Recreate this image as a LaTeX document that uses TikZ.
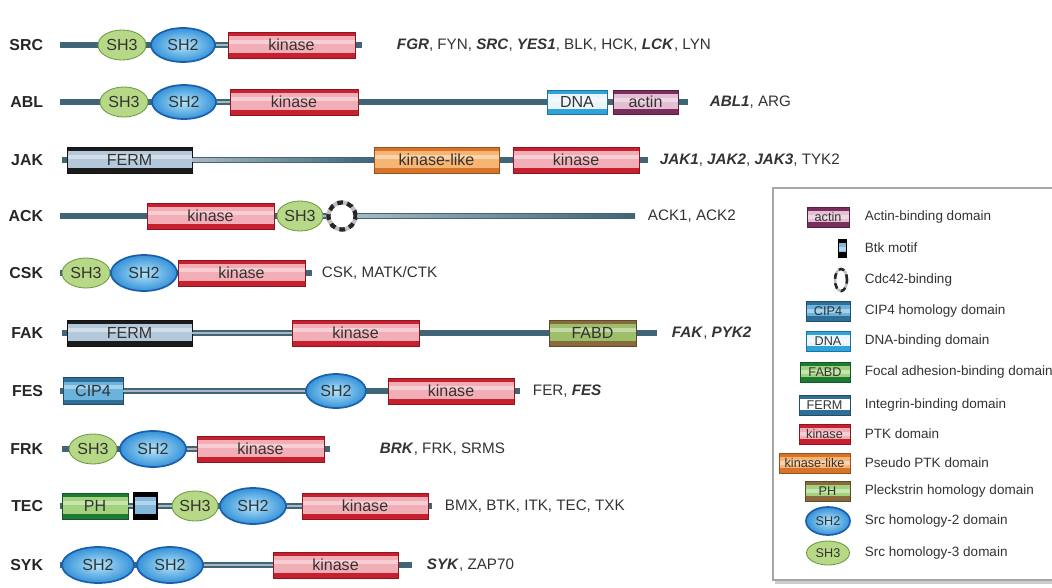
\documentclass[tikz,border=0pt]{standalone}
\usepackage{fontspec}
\setmainfont{Liberation Sans}
\usepackage{xcolor}
\usepackage{tikz}
\usetikzlibrary{shapes,arrows,positioning,calc,shadows,arrows.meta}

\definecolor{bbdark}{HTML}{3F6577}
\definecolor{bblight}{HTML}{A7B8C3}
\definecolor{txt}{HTML}{333333}
\definecolor{kinred}{HTML}{C8202F}
\definecolor{kinpink}{HTML}{F2AEB6}
\definecolor{klband}{HTML}{D8742A}
\definecolor{klfill}{HTML}{F7B573}
\definecolor{fermband}{HTML}{1B1B1B}
\definecolor{fermfill}{HTML}{B3C8DA}
\definecolor{fabdband}{HTML}{8A6A3C}
\definecolor{fabdfill}{HTML}{9DBF6A}
\definecolor{phband}{HTML}{1E7B36}
\definecolor{phfill}{HTML}{A2D27C}
\definecolor{cipband}{HTML}{2F6E96}
\definecolor{cipfill}{HTML}{6AB3DC}
\definecolor{dnaband}{HTML}{2EA3DC}
\definecolor{dnafill}{HTML}{EAF6FB}
\definecolor{actband}{HTML}{7B2D5D}
\definecolor{actfill}{HTML}{E3BFD3}
\definecolor{btkfill}{HTML}{80B9DC}
\definecolor{shtwoin}{HTML}{B4E4FA}
\definecolor{shtwoout}{HTML}{3592D8}
\definecolor{shtwoedge}{HTML}{1A5FAE}
\definecolor{shthree}{HTML}{B7D886}
\definecolor{shthreeedge}{HTML}{6A9A3F}

\def\pxu{0.025cm}
\newcommand{\domfont}{\fontsize{11.4}{13}\selectfont}
\newcommand{\genefont}{\fontsize{10.8}{13}\selectfont}
\newcommand{\rowfont}{\fontsize{11.3}{13}\selectfont\bfseries}
\newcommand{\legfont}{\fontsize{9.6}{11}\selectfont}
\newcommand{\legiconfont}{\fontsize{9}{11}\selectfont}
\newcommand{\bgene}[1]{\textbf{\textit{#1}}}
% box domain: name, style, left x, right x, y, text
\newcommand{\dombox}[6]{\node[#2, minimum width={(#4-#3)*\pxu}] (#1) at ({(#3+#4)/2},#5) {#6};}

\tikzset{
  dom/.style 2 args={draw=#2!70!black, line width=0.3pt, fill=#1, inner sep=0pt,
    minimum height=26*\pxu, text=txt, font=\domfont,
    path picture={
      \fill[#2] (path picture bounding box.north west) rectangle ([yshift=-3pt]path picture bounding box.north east);
      \fill[#2] (path picture bounding box.south west) rectangle ([yshift=3.5pt]path picture bounding box.south east);
      \fill[white, opacity=.4] ([yshift=-5.5pt]path picture bounding box.north west) rectangle ([yshift=-8.5pt]path picture bounding box.north east);
    }},
  kinase/.style={dom={kinpink}{kinred}},
  kinlike/.style={dom={klfill}{klband}},
  ferm/.style={dom={fermfill}{fermband}},
  fabd/.style={dom={fabdfill}{fabdband}},
  ph/.style={dom={phfill}{phband}},
  cip/.style={dom={cipfill}{cipband}},
  dna/.style={dom={dnafill}{dnaband}},
  actin/.style={dom={actfill}{actband}},
  btk/.style={dom={btkfill}{black}, draw=black, line width=1pt},
  sh2/.style={ellipse, draw=shtwoedge, line width=1.2pt, inner color=shtwoin, outer color=shtwoout,
    minimum width=64*\pxu, minimum height=34*\pxu, inner sep=0pt, text=txt, font=\domfont},
  sh3/.style={ellipse, draw=shthreeedge, line width=0.6pt, fill=shthree,
    minimum width=48*\pxu, minimum height=30*\pxu, inner sep=0pt, text=txt, font=\domfont},
  cdc/.style={ellipse, fill=white, draw=black!25, line width=3pt, inner sep=0pt,
    minimum width=27*\pxu, minimum height=27*\pxu,
    postaction={draw=black!85, dash pattern=on 4pt off 3.2pt}},
  backbone/.style={draw=bbdark, line width=3.6pt},
  linker/.style={draw=bblight, line width=2pt},
  rowname/.style={anchor=east, font=\rowfont, text=black!85},
  genes/.style={anchor=west, font=\genefont, text=txt},
  legbox/.style={draw=black!35, fill=white, line width=0.8pt,
    drop shadow={shadow xshift=1.5pt, shadow yshift=-2.5pt, fill=black!40}},
  legicon/.style={minimum height=20*\pxu, font=\legiconfont},
  legtxt/.style={anchor=west, font=\legfont, text=txt}
}

\begin{document}
\begin{tikzpicture}[x=0.025cm, y=-0.025cm]
    \useasboundingbox (0,0) rectangle (1052,587);

    % SRC
    \node[rowname] (srcL) at (48,45) {SRC};
    \coordinate (srcA) at (60,45); \coordinate (srcB) at (362,45);
    \draw[backbone] (srcA) -- (srcB);
    \node[sh3] (srcSH3) at (122,45) {SH3};
    \node[sh2] (srcSH2) at (183,45) {SH2};
    \dombox{srcKin}{kinase}{228}{355}{45}{kinase}
    \draw[linker] (srcSH2) -- (srcKin);
    \node[genes] (srcG) at (392,45) {\bgene{FGR}, FYN, \bgene{SRC}, \bgene{YES1}, BLK, HCK, \bgene{LCK}, LYN};

    % ABL
    \node[rowname] (ablL) at (48,102) {ABL};
    \coordinate (ablA) at (60,102); \coordinate (ablB) at (688,102);
    \draw[backbone] (ablA) -- (ablB);
    \node[sh3] (ablSH3) at (124,102) {SH3};
    \node[sh2] (ablSH2) at (184,102) {SH2};
    \dombox{ablKin}{kinase}{230}{358}{102}{kinase}
    \dombox{ablDNA}{dna, minimum height=24*\pxu}{547}{607}{102}{DNA}
    \dombox{ablAct}{actin, minimum height=24*\pxu}{613}{678}{102}{actin}
    \draw[linker] (ablSH2) -- (ablKin);
    \node[genes] (ablG) at (705,102) {\bgene{ABL1}, ARG};

    % JAK
    \node[rowname] (jakL) at (48,160) {JAK};
    \coordinate (jakA) at (62,160); \coordinate (jakB) at (648,160);
    \draw[backbone] (jakA) -- (jakB);
    \dombox{jakFerm}{ferm}{67}{192}{160}{FERM}
    \dombox{jakKl}{kinlike}{374}{499}{160}{kinase-like}
    \dombox{jakKin}{kinase}{513}{639}{160}{kinase}
    \shade[left color=bblight, right color=bbdark] ([yshift=1pt]jakFerm.east) rectangle ([yshift=-1pt]jakKl.west);
    \node[genes] (jakG) at (655,160) {\bgene{JAK1}, \bgene{JAK2}, \bgene{JAK3}, TYK2};

    % ACK
    \node[rowname] (ackL) at (48,216) {ACK};
    \coordinate (ackA) at (60,216); \coordinate (ackB) at (635,216);
    \draw[backbone] (ackA) -- (ackB);
    \dombox{ackKin}{kinase}{147}{274}{216}{kinase}
    \node[sh3, minimum width=46*\pxu] (ackSH3) at (300,216) {SH3};
    \node[cdc] (ackCdc) at (342,216) {};
    \draw[linker] (ackSH3) -- (ackCdc);
    \shade[left color=bblight, right color=bbdark] ([yshift=1pt]ackCdc.east) rectangle ([yshift=-1pt]ackB);
    \node[genes] (ackG) at (643,216) {ACK1, ACK2};

    % CSK
    \node[rowname] (cskL) at (48,273) {CSK};
    \coordinate (cskA) at (60,273); \coordinate (cskB) at (312,273);
    \draw[backbone] (cskA) -- (cskB);
    \node[sh3] (cskSH3) at (86,273) {SH3};
    \node[sh2, minimum width=66*\pxu, minimum height=36*\pxu] (cskSH2) at (144,273) {SH2};
    \dombox{cskKin}{kinase}{178}{305}{273}{kinase}
    \node[genes] (cskG) at (317,273) {CSK, MATK/CTK};

    % FAK
    \node[rowname] (fakL) at (48,333) {FAK};
    \coordinate (fakA) at (62,333); \coordinate (fakB) at (657,333);
    \draw[backbone] (fakA) -- (fakB);
    \dombox{fakFerm}{ferm}{67}{192}{333}{FERM}
    \dombox{fakKin}{kinase}{292}{419}{333}{kinase}
    \dombox{fakFabd}{fabd}{549}{636}{333}{FABD}
    \draw[linker] (fakFerm) -- (fakKin);
    \node[genes] (fakG) at (667,333) {\bgene{FAK}, \bgene{PYK2}};

    % FES
    \node[rowname] (fesL) at (48,391) {FES};
    \coordinate (fesA) at (60,391); \coordinate (fesB) at (520,391);
    \draw[backbone] (fesA) -- (fesB);
    \dombox{fesCip}{cip, minimum height=27*\pxu}{63}{123}{391}{CIP4}
    \node[sh2, minimum width=60*\pxu] (fesSH2) at (336,391) {SH2};
    \dombox{fesKin}{kinase}{388}{514}{391}{kinase}
    \draw[linker] (fesCip) -- (fesSH2);
    \node[genes] (fesG) at (528,391) {FER, \bgene{FES}};

    % FRK
    \node[rowname] (frkL) at (48,449) {FRK};
    \coordinate (frkA) at (62,449); \coordinate (frkB) at (330,449);
    \draw[backbone] (frkA) -- (frkB);
    \node[sh3] (frkSH3) at (93,449) {SH3};
    \node[sh2, minimum width=66*\pxu, minimum height=36*\pxu] (frkSH2) at (153,449) {SH2};
    \dombox{frkKin}{kinase}{197}{324}{449}{kinase}
    \draw[linker] (frkSH2) -- (frkKin);
    \node[genes] (frkG) at (375,449) {\bgene{BRK}, FRK, SRMS};

    % TEC
    \node[rowname] (tecL) at (48,506) {TEC};
    \coordinate (tecA) at (60,506); \coordinate (tecB) at (432,506);
    \draw[backbone] (tecA) -- (tecB);
    \dombox{tecPh}{ph}{62}{128}{506}{PH}
    \dombox{tecBtk}{btk}{134}{157}{506}{}
    \node[sh3, minimum width=46*\pxu] (tecSH3) at (195,506) {SH3};
    \node[sh2, minimum width=66*\pxu, minimum height=36*\pxu] (tecSH2) at (253,506) {SH2};
    \dombox{tecKin}{kinase}{302}{428}{506}{kinase}
    \draw[linker] (tecPh) -- (tecBtk);
    \draw[linker] (tecBtk) -- (tecSH3);
    \draw[linker] (tecSH2) -- (tecKin);
    \node[genes] (tecG) at (440,506) {BMX, BTK, ITK, TEC, TXK};

    % SYK
    \node[rowname] (sykL) at (48,565) {SYK};
    \coordinate (sykA) at (60,565); \coordinate (sykB) at (412,565);
    \draw[backbone] (sykA) -- (sykB);
    \node[sh2, minimum width=72*\pxu, minimum height=36*\pxu] (sykSHa) at (98,565) {SH2};
    \node[sh2, minimum width=66*\pxu, minimum height=36*\pxu] (sykSHb) at (170,565) {SH2};
    \dombox{sykKin}{kinase}{273}{398}{565}{kinase}
    \draw[linker] (sykSHb) -- (sykKin);
    \node[genes] (sykG) at (422,565) {\bgene{SYK}, ZAP70};

    % Legend
    \node[legbox, minimum width=292*\pxu, minimum height=392*\pxu] (legend) at (919,384) {};
    \dombox{legAct}{actin, legicon}{807}{849}{217}{actin}
    \dombox{legBtk}{btk, minimum height=18*\pxu, line width=0.6pt}{838}{846}{248}{}
    \node[cdc, minimum width=12*\pxu, minimum height=22*\pxu, line width=1.8pt] (legCdc) at (841,280) {};
    \dombox{legCip}{cip, legicon}{806}{850}{311}{CIP4}
    \dombox{legDna}{dna, legicon}{806}{850}{341}{DNA}
    \dombox{legFabd}{dom={phfill}{phband}, legicon}{800}{850}{372}{FABD}
    \dombox{legFerm}{dom={white}{cipband}, legicon}{799}{850}{405}{FERM}
    \dombox{legKin}{kinase, legicon}{799}{850}{434}{kinase}
    \dombox{legKl}{kinlike, legicon}{779}{850}{463}{kinase-like}
    \dombox{legPh}{dom={phfill}{fabdband}, legicon}{805}{850}{491}{PH}
    \node[sh2, minimum width=44*\pxu, minimum height=28*\pxu, font=\legiconfont] (legSH2) at (828,521) {SH2};
    \node[sh3, minimum width=43*\pxu, minimum height=24*\pxu, font=\legiconfont] (legSH3) at (828,553) {SH3};
    \foreach \y/\desc [count=\n] in {217/Actin-binding domain, 248/Btk motif, 280/Cdc42-binding,
        311/CIP4 homology domain, 341/DNA-binding domain, 372/Focal adhesion-binding domain,
        405/Integrin-binding domain, 434/PTK domain, 463/Pseudo PTK domain,
        491/Pleckstrin homology domain, 521/Src homology-2 domain, 553/Src homology-3 domain}
        \node[legtxt] (leg\n) at (860,\y) {\desc};
\end{tikzpicture}
\end{document}
